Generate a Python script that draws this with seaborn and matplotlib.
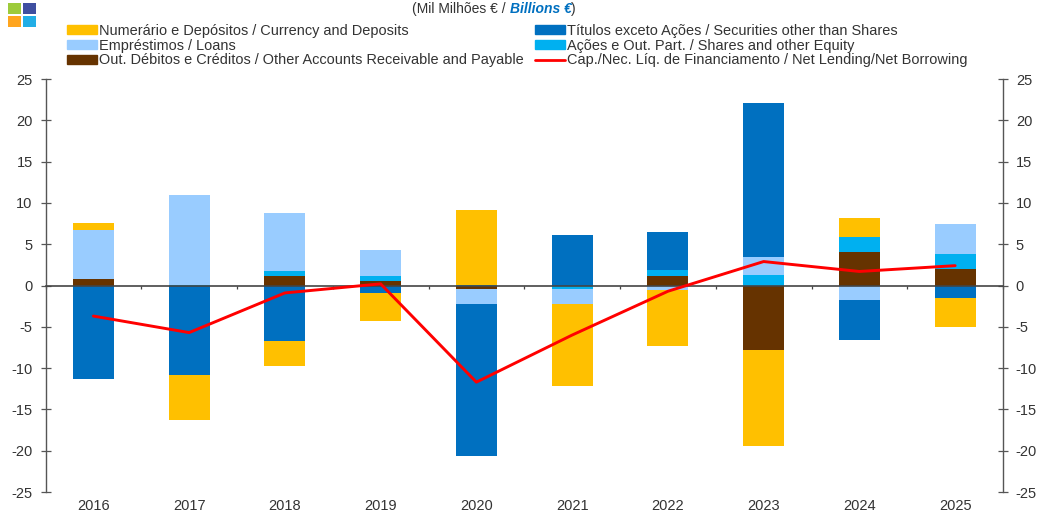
import numpy as np
import pandas as pd
import seaborn as sns
import matplotlib.pyplot as plt
from matplotlib.patches import Rectangle

years = ['2016', '2017', '2018', '2019', '2020', '2021', '2022', '2023', '2024', '2025']

# stacked outwards from zero in this order
outros = [0.8, 0.0, 1.1, 0.5, -0.4, 0.0, 1.2, -7.8, 4.1, 2.0]
acoes = [0.0, 0.1, 0.6, 0.65, 0.1, -0.4, 0.7, 1.3, 1.8, 1.8]
emprestimos = [5.9, 10.9, 7.1, 3.15, -1.8, -1.8, -0.5, 2.1, -1.8, 3.6]
titulos = [-11.3, -10.8, -6.7, -0.9, -18.5, 6.1, 4.6, 18.7, -4.8, -1.5]
numerario = [0.9, -5.5, -3.1, -3.4, 9.1, -10.0, -6.85, -11.6, 2.3, -3.5]
net_lending = [-3.7, -5.7, -0.9, 0.2, -11.7, -6.0, -0.7, 2.9, 1.7, 2.4]

labels = {
    'numerario': 'Numerário e Depósitos / Currency and Deposits',
    'emprestimos': 'Empréstimos / Loans',
    'outros': 'Out. Débitos e Créditos / Other Accounts Receivable and Payable',
    'titulos': 'Títulos exceto Ações / Securities other than Shares',
    'acoes': 'Ações e Out. Part. / Shares and other Equity',
    'net': 'Cap./Nec. Líq. de Financiamento / Net Lending/Net Borrowing',
}
colors = {
    'numerario': '#FFC000',
    'emprestimos': '#99CCFF',
    'outros': '#663300',
    'titulos': '#0070C0',
    'acoes': '#00B0F0',
}
yticks = [-25, -20, -15, -10, -5, 0, 5, 10, 15, 20, 25]

sns.set_theme(style='white')
plt.rcParams['font.family'] = ['Liberation Sans', 'DejaVu Sans']
plt.rcParams['axes.unicode_minus'] = False
text_color = '#333333'
axis_color = '#555555'

fig = plt.figure(figsize=(10.39, 5.17), dpi=100)
ax = fig.add_axes([45.5 / 1039, 1 - 492 / 517, (1003 - 45.5) / 1039, (492 - 79) / 517])

df = pd.DataFrame({'year': years, 'outros': outros, 'acoes': acoes, 'emprestimos': emprestimos,
                   'titulos': titulos, 'numerario': numerario})

pos = np.zeros(len(years))
neg = np.zeros(len(years))
for name in ['outros', 'acoes', 'emprestimos', 'titulos', 'numerario']:
    vals = df[name].values
    bottoms = np.where(vals >= 0, pos, neg)
    sns.barplot(x=df['year'], y=vals, bottom=bottoms, color=colors[name], saturation=1,
                width=0.43, linewidth=0, ax=ax, zorder=2)
    pos = pos + np.clip(vals, 0, None)
    neg = neg + np.clip(vals, None, 0)

sns.lineplot(x=range(len(years)), y=net_lending, color='#FF0000', linewidth=2.1, ax=ax, zorder=4)

ax.set_xlim(-0.5, len(years) - 0.5)
ax.set_ylim(-25, 25)
ax.set_xlabel('')
ax.set_ylabel('')
ax.set_yticks(yticks)

ax.spines['top'].set_visible(False)
ax.spines['bottom'].set_position(('data', 0))
ax.spines['bottom'].set_zorder(3)
ax.spines['bottom'].set_color('#444444')
ax.spines['bottom'].set_linewidth(1.2)
for side in ['left', 'right']:
    ax.spines[side].set_color(axis_color)
    ax.spines[side].set_linewidth(1.0)

ax.tick_params(axis='y', which='major', left=True, right=True, labelright=True, direction='inout',
               length=6.5, width=0.9, color=axis_color, labelsize=10.5, labelcolor=text_color, pad=6)
# year labels hang at the bottom although the axis line sits on zero
ax.tick_params(axis='x', which='major', bottom=True, length=0, pad=154, labelsize=10.5, labelcolor=text_color)
ax.set_xticks(np.arange(-0.5, len(years)), minor=True)
ax.tick_params(axis='x', which='minor', bottom=True, direction='out', length=2.5, width=0.9, color='#444444')

handles = [
    Rectangle((0, 0), 1, 1, color=colors['numerario']),
    Rectangle((0, 0), 1, 1, color=colors['emprestimos']),
    Rectangle((0, 0), 1, 1, color=colors['outros']),
    Rectangle((0, 0), 1, 1, color=colors['titulos']),
    Rectangle((0, 0), 1, 1, color=colors['acoes']),
    plt.Line2D([0], [0], color='#FF0000', linewidth=2),
]
names = [labels['numerario'], labels['emprestimos'], labels['outros'],
         labels['titulos'], labels['acoes'], labels['net']]
fig.legend(handles, names, ncol=2, loc='upper left', bbox_to_anchor=(67 / 1039, 1 - 24 / 517),
           bbox_transform=fig.transFigure, frameon=False, fontsize=10.45, labelcolor=text_color,
           handlelength=2.1, handleheight=0.55, handletextpad=0.12, columnspacing=0.75,
           labelspacing=0.05, borderpad=0, borderaxespad=0)

# unit line, with the English part in bold blue italics
t1 = fig.text(412 / 1039, 1 - 16 / 517, '(Mil Milhões € / ', fontsize=10, color=text_color, va='bottom')
t2 = ax.annotate('Billions €', xy=(1, 0), xycoords=t1, fontsize=10, color='#0070C0', va='bottom',
                 fontweight='bold', fontstyle='italic', annotation_clip=False)
ax.annotate(')', xy=(1, 0), xycoords=t2, fontsize=10, color=text_color, va='bottom', annotation_clip=False)

# logo
for x0, y0, c in [(8, 3, '#9DCB3B'), (23, 3, '#3F4FA0'), (8, 16, '#FFA51E'), (23, 16, '#22AEE6')]:
    fig.add_artist(Rectangle((x0 / 1039, 1 - (y0 + 11) / 517), 13 / 1039, 11 / 517,
                             transform=fig.transFigure, color=c, linewidth=0))

fig.savefig('out.png', dpi=100)
